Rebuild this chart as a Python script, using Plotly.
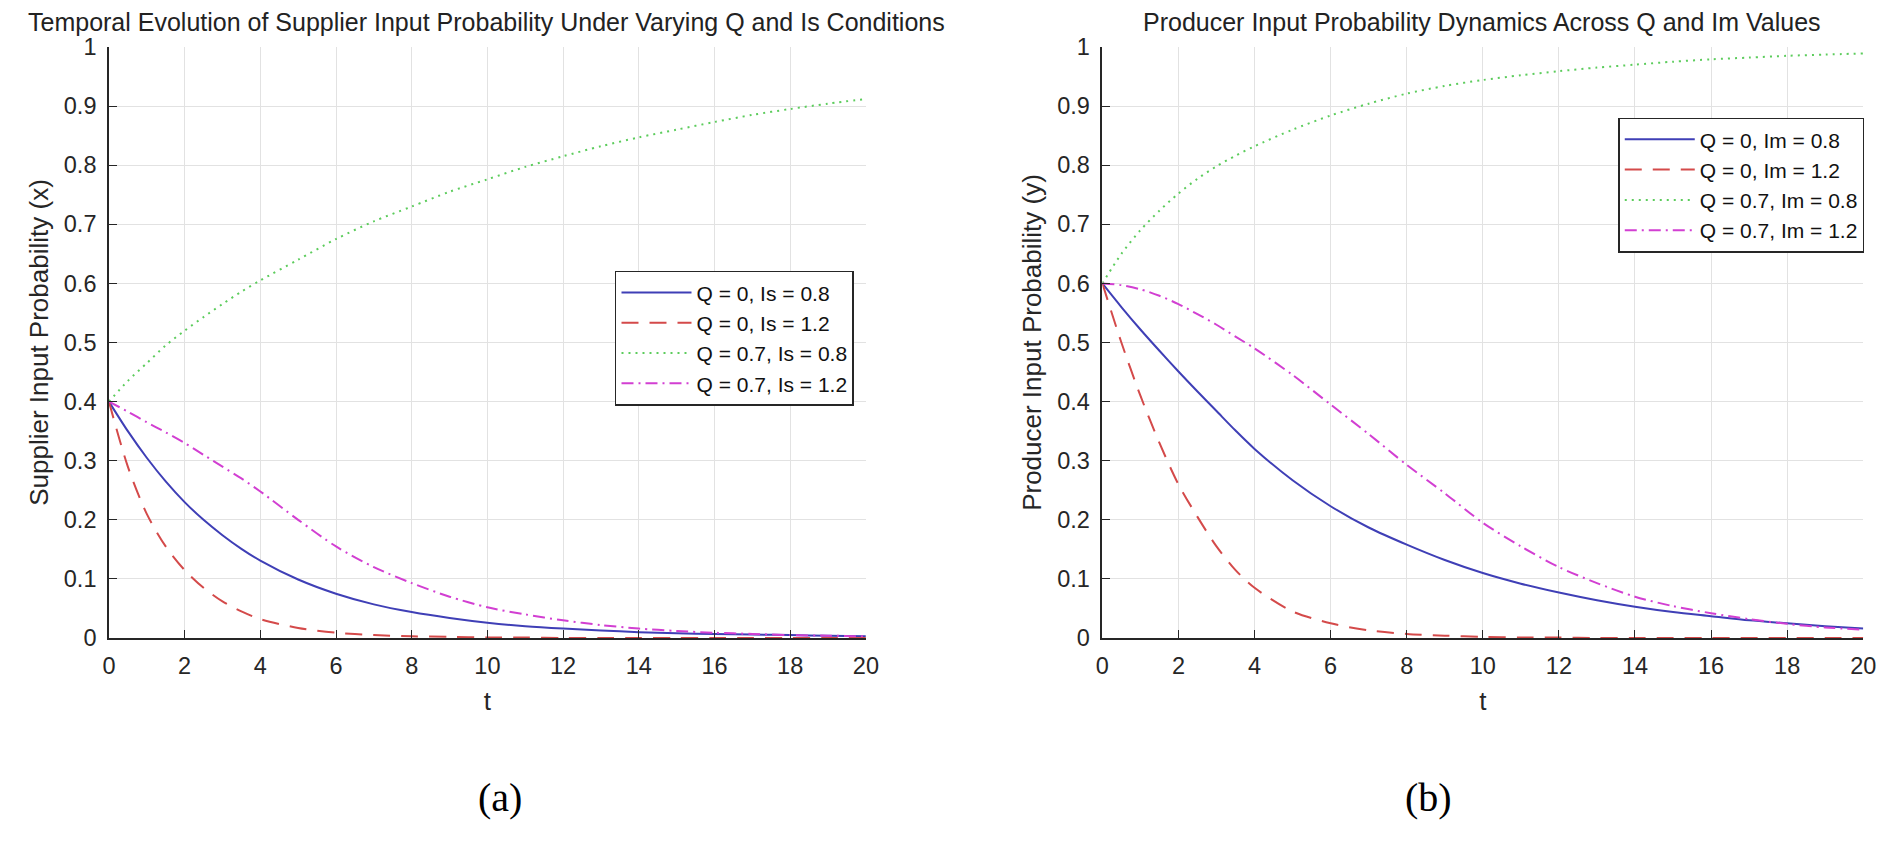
import plotly.graph_objects as go

# time grid shared by all curves
t = [0, 0.5, 1, 1.5, 2, 2.5, 3, 3.5, 4, 5, 6, 7, 8, 9, 10,
     11, 12, 13, 14, 15, 16, 17, 18, 19, 20]

# (a) supplier input probability x
x_q0_is08 = [0.4, 0.35, 0.305, 0.265, 0.23, 0.2, 0.174, 0.151, 0.131, 0.099, 0.075, 0.057, 0.044,
             0.034, 0.026, 0.02, 0.016, 0.013, 0.01, 0.008, 0.007, 0.006, 0.005, 0.004, 0.003]
x_q0_is12 = [0.4, 0.29, 0.21, 0.155, 0.115, 0.085, 0.062, 0.045, 0.032, 0.017, 0.009, 0.005, 0.003,
             0.002, 0.001, 0.001, 0, 0, 0, 0, 0, 0, 0, 0, 0]
x_q07_is08 = [0.4, 0.435, 0.465, 0.495, 0.52, 0.543, 0.565, 0.586, 0.605, 0.64, 0.675, 0.705, 0.73,
              0.755, 0.776, 0.797, 0.815, 0.832, 0.847, 0.86, 0.873, 0.885, 0.895, 0.904, 0.912]
x_q07_is12 = [0.4, 0.383, 0.365, 0.348, 0.33, 0.31, 0.29, 0.27, 0.248, 0.2, 0.155, 0.12, 0.093,
              0.07, 0.052, 0.04, 0.03, 0.022, 0.016, 0.012, 0.009, 0.007, 0.005, 0.004, 0.003]

# (b) producer input probability y
y_q0_im08 = [0.6, 0.56, 0.522, 0.486, 0.451, 0.417, 0.384, 0.351, 0.32, 0.267, 0.223, 0.187, 0.158,
             0.132, 0.11, 0.092, 0.077, 0.064, 0.053, 0.044, 0.037, 0.03, 0.025, 0.02, 0.016]
y_q0_im12 = [0.6, 0.5, 0.41, 0.33, 0.26, 0.205, 0.155, 0.115, 0.085, 0.045, 0.025, 0.013, 0.007,
             0.004, 0.002, 0.001, 0.001, 0, 0, 0, 0, 0, 0, 0, 0]
y_q07_im08 = [0.6, 0.65, 0.69, 0.723, 0.752, 0.777, 0.798, 0.816, 0.832, 0.86, 0.884, 0.904, 0.921,
              0.934, 0.944, 0.952, 0.959, 0.965, 0.97, 0.975, 0.979, 0.982, 0.985, 0.987, 0.989]
y_q07_im12 = [0.6, 0.597, 0.59, 0.579, 0.565, 0.548, 0.53, 0.51, 0.49, 0.445, 0.395, 0.345, 0.293,
              0.245, 0.195, 0.155, 0.12, 0.093, 0.07, 0.054, 0.042, 0.032, 0.024, 0.018, 0.014]

names_a = ["Q = 0, Is = 0.8", "Q = 0, Is = 1.2", "Q = 0.7, Is = 0.8", "Q = 0.7, Is = 1.2"]
names_b = ["Q = 0, Im = 0.8", "Q = 0, Im = 1.2", "Q = 0.7, Im = 0.8", "Q = 0.7, Im = 1.2"]

# MATLAB-ish line styles: solid blue, dashed red, dotted green, dash-dot magenta
styles = [
    dict(color="#3f3fb6", width=2, dash="solid"),
    dict(color="#d44a4a", width=2, dash="17px,11px"),
    dict(color="#5ccc5c", width=2, dash="2px,5px"),
    dict(color="#d23fd2", width=2, dash="12px,5px,2px,5px"),
]

W, H = 1902, 841

fig = go.Figure()

for name, vals, st in zip(names_a, [x_q0_is08, x_q0_is12, x_q07_is08, x_q07_is12], styles):
    fig.add_trace(go.Scatter(x=t, y=vals, mode="lines", name=name, line=dict(shape="spline", smoothing=0.8, **st),
                             xaxis="x", yaxis="y", legend="legend"))

for name, vals, st in zip(names_b, [y_q0_im08, y_q0_im12, y_q07_im08, y_q07_im12], styles):
    fig.add_trace(go.Scatter(x=t, y=vals, mode="lines", name=name, line=dict(shape="spline", smoothing=0.8, **st),
                             xaxis="x2", yaxis="y2", legend="legend2"))

axis_common = dict(showgrid=True, gridcolor="#e2e2e2", gridwidth=1, zeroline=False,
                   showline=True, linecolor="#262626", linewidth=1.5,
                   ticks="inside", ticklen=8, tickcolor="#262626", tickwidth=1.2,
                   tickfont=dict(size=23.5, color="#262626"), ticklabelstandoff=6)

xa = dict(range=[0, 20], tick0=0, dtick=2,
          title=dict(text="t", font=dict(size=26, color="#262626"), standoff=14), **axis_common)
ya = dict(range=[0, 1], tick0=0, dtick=0.1, **axis_common)

y_dom = [1 - 645 / H, 1 - 35 / H]

legend_style = dict(xanchor="right", yanchor="top", bgcolor="white", bordercolor="#262626",
                    borderwidth=1.5, font=dict(size=21, color="#111111"), itemwidth=70, tracegroupgap=0)

fig.update_layout(
    width=W, height=H,
    margin=dict(l=0, r=0, t=0, b=0),
    paper_bgcolor="white", plot_bgcolor="white",
    font=dict(family="Liberation Sans, Arial, sans-serif", color="#262626"),
    showlegend=True,
    xaxis=dict(domain=[103 / W, 868 / W], anchor="y", **xa),
    yaxis=dict(domain=y_dom, anchor="x",
               title=dict(text="Supplier Input Probability (x)", font=dict(size=26, color="#262626"), standoff=8),
               **ya),
    xaxis2=dict(domain=[1107 / W, 1876 / W], anchor="y2", **xa),
    yaxis2=dict(domain=y_dom, anchor="x2",
                title=dict(text="Producer Input Probability (y)", font=dict(size=26, color="#262626"), standoff=8),
                **ya),
    legend=dict(x=856 / W, y=1 - 266 / H, **legend_style),
    legend2=dict(x=1877 / W, y=1 - 108 / H, **legend_style),
)

# panel titles and (a)/(b) captions
fig.add_annotation(text="Temporal Evolution of Supplier Input Probability Under Varying Q and Is Conditions",
                   x=485 / W, y=1 - 9 / H, xref="paper", yref="paper", showarrow=False,
                   xanchor="center", yanchor="middle", font=dict(size=25, color="#222222"))
fig.add_annotation(text="Producer Input Probability Dynamics Across Q and Im Values",
                   x=1491 / W, y=1 - 9 / H, xref="paper", yref="paper", showarrow=False,
                   xanchor="center", yanchor="middle", font=dict(size=25, color="#222222"))
fig.add_annotation(text="(a)", x=498 / W, y=1 - 810 / H, xref="paper", yref="paper", showarrow=False,
                   xanchor="center", yanchor="middle",
                   font=dict(family="Liberation Serif, Times New Roman, serif", size=40, color="black"))
fig.add_annotation(text="(b)", x=1437 / W, y=1 - 810 / H, xref="paper", yref="paper", showarrow=False,
                   xanchor="center", yanchor="middle",
                   font=dict(family="Liberation Serif, Times New Roman, serif", size=40, color="black"))

fig.write_html("out.html", config={"displayModeBar": False},
               post_script="document.body.style.margin='0';")
